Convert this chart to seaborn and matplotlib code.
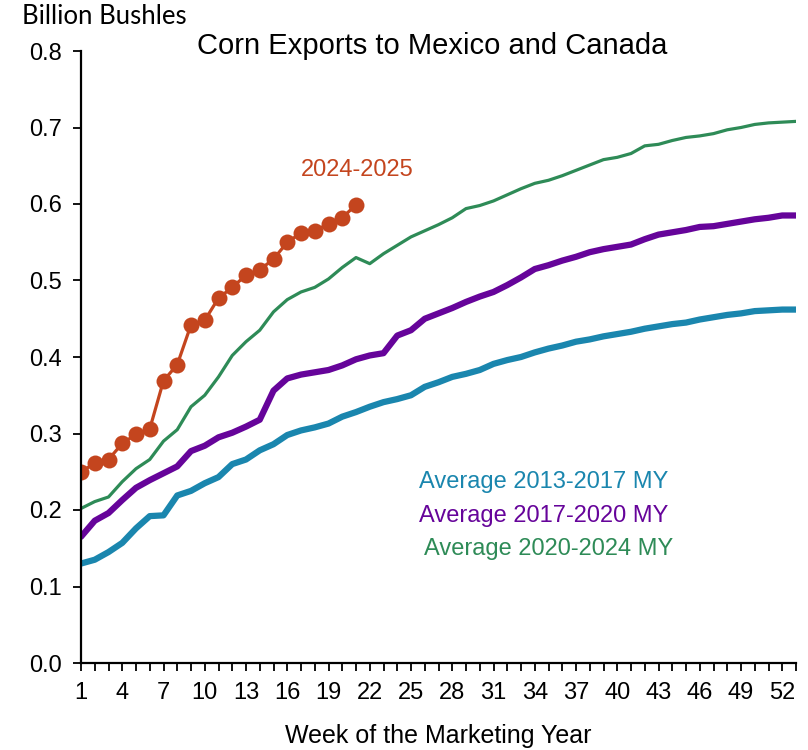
import numpy as np
import pandas as pd
import matplotlib
matplotlib.use("Agg")
import matplotlib.pyplot as plt
from matplotlib.ticker import MultipleLocator, FixedLocator, FormatStrFormatter
import seaborn as sns

weeks = list(range(1, 54))
cur_weeks = list(range(1, 22))

cur_2024_25 = [0.250, 0.261, 0.266, 0.287, 0.299, 0.306, 0.369, 0.390, 0.442, 0.448,
               0.477, 0.491, 0.507, 0.514, 0.528, 0.550, 0.562, 0.565, 0.574, 0.582, 0.599]

avg_2013_17 = [0.130, 0.135, 0.145, 0.157, 0.176, 0.192, 0.193, 0.219, 0.225, 0.235,
               0.243, 0.260, 0.266, 0.278, 0.286, 0.298, 0.304, 0.308, 0.313, 0.322,
               0.328, 0.335, 0.341, 0.345, 0.350, 0.361, 0.367, 0.374, 0.378, 0.383,
               0.391, 0.396, 0.400, 0.406, 0.411, 0.415, 0.420, 0.423, 0.427, 0.430,
               0.433, 0.437, 0.440, 0.443, 0.445, 0.449, 0.452, 0.455, 0.457, 0.460,
               0.461, 0.462, 0.462]

avg_2017_20 = [0.165, 0.186, 0.196, 0.213, 0.229, 0.239, 0.248, 0.257, 0.277, 0.284,
               0.295, 0.301, 0.309, 0.318, 0.356, 0.372, 0.377, 0.380, 0.383, 0.389,
               0.397, 0.402, 0.405, 0.428, 0.435, 0.450, 0.457, 0.464, 0.472, 0.479,
               0.485, 0.494, 0.504, 0.515, 0.520, 0.526, 0.531, 0.537, 0.541, 0.544,
               0.547, 0.554, 0.560, 0.563, 0.566, 0.570, 0.571, 0.574, 0.577, 0.580,
               0.582, 0.585, 0.585]

avg_2020_24 = [0.202, 0.211, 0.217, 0.237, 0.254, 0.266, 0.290, 0.305, 0.335, 0.350,
               0.374, 0.402, 0.420, 0.435, 0.459, 0.475, 0.485, 0.491, 0.502, 0.517,
               0.530, 0.522, 0.535, 0.546, 0.557, 0.565, 0.573, 0.582, 0.594, 0.598,
               0.604, 0.612, 0.620, 0.627, 0.631, 0.637, 0.644, 0.651, 0.658, 0.661,
               0.666, 0.676, 0.678, 0.683, 0.687, 0.689, 0.692, 0.697, 0.700, 0.704,
               0.706, 0.707, 0.708]

x_tick_labels = [str(w) for w in range(1, 53, 3)]

C_TEAL = "#1A86AE"
C_PURPLE = "#66049A"
C_GREEN = "#2E8B57"
C_ORANGE = "#C4451E"

sns.set_style("white")
FAM = ["Liberation Sans", "DejaVu Sans"]
plt.rcParams["font.family"] = FAM
plt.rcParams["text.color"] = "black"
plt.rcParams["axes.labelcolor"] = "black"
plt.rcParams["xtick.color"] = "black"
plt.rcParams["ytick.color"] = "black"

fig = plt.figure(figsize=(8.08, 7.5), dpi=100)
ax = fig.add_axes([81/808, 1-663/750, (796-81)/808, (663-51)/750])

df_avg = pd.DataFrame({"week": weeks, "a": avg_2013_17, "b": avg_2017_20, "c": avg_2020_24})
df_cur = pd.DataFrame({"week": cur_weeks, "v": cur_2024_25})

sns.lineplot(data=df_avg, x="week", y="a", color=C_TEAL, lw=4.5, ax=ax)
sns.lineplot(data=df_avg, x="week", y="b", color=C_PURPLE, lw=4.5, ax=ax)
sns.lineplot(data=df_avg, x="week", y="c", color=C_GREEN, lw=2.3, ax=ax)
sns.lineplot(data=df_cur, x="week", y="v", color=C_ORANGE, lw=2.3, marker="o",
             markersize=11.5, markeredgewidth=0, ax=ax)

ax.set_xlim(1, 53)
ax.set_ylim(0, 0.8)
ax.xaxis.set_major_locator(FixedLocator(list(range(1, 53, 3))))
ax.set_xticklabels(x_tick_labels)
ax.xaxis.set_minor_locator(MultipleLocator(1))
ax.yaxis.set_major_locator(MultipleLocator(0.1))
ax.yaxis.set_major_formatter(FormatStrFormatter("%.1f"))

for s in ["top", "right"]:
    ax.spines[s].set_visible(False)
for s in ["left", "bottom"]:
    ax.spines[s].set_linewidth(1.6)
    ax.spines[s].set_color("black")

ax.tick_params(axis="both", which="both", direction="out", color="black", width=1.3,
               bottom=True, left=True)
ax.tick_params(axis="x", which="major", length=6, labelsize=17, pad=8)
ax.tick_params(axis="x", which="minor", length=6)
ax.tick_params(axis="y", which="major", length=6, labelsize=17, pad=8)

ax.set_xlabel("Week of the Marketing Year", fontsize=18, labelpad=14)
ax.set_ylabel("")

fig.text(22/808, 1-17/750, "Billion Bushles", fontsize=18.5, family=["Lato", "DejaVu Sans"],
         ha="left", va="center")
fig.text(432/808, 1-46/750, "Corn Exports to Mexico and Canada", fontsize=21,
         ha="center", va="center")

ax.text(21.1, 0.645, "2024-2025", color=C_ORANGE, fontsize=17, ha="center", va="center")
ax.text(25.6, 0.237, "Average 2013-2017 MY", color=C_TEAL, fontsize=17, ha="left", va="center")
ax.text(25.6, 0.192, "Average 2017-2020 MY", color=C_PURPLE, fontsize=17, ha="left", va="center")
ax.text(25.95, 0.149, "Average 2020-2024 MY", color=C_GREEN, fontsize=17, ha="left", va="center")

fig.savefig("out.png", dpi=100)
